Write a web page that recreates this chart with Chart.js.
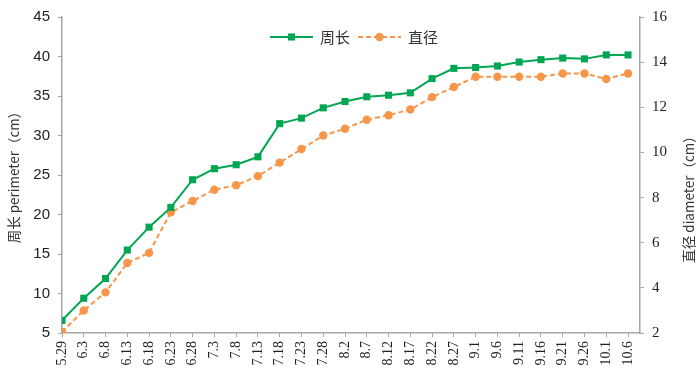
<!DOCTYPE html>
<html>
<head>
<meta charset="utf-8">
<script src="https://cdn.jsdelivr.net/npm/chart.js@4.4.0/dist/chart.umd.min.js"></script>
<style>
  html, body { margin: 0; padding: 0; background: #fff; }
  #caja { width: 700px; height: 378px; }
</style>
</head>
<body>
<div id="caja"><canvas id="grafica_crecimiento"></canvas></div>
<script>
/*-----Datos-----*/

const fechas = ['5.29', '6.3', '6.8', '6.13', '6.18', '6.23', '6.28', '7.3', '7.8',
                '7.13', '7.18', '7.23', '7.28', '8.2', '8.7', '8.12', '8.17', '8.22',
                '8.27', '9.1', '9.6', '9.11', '9.16', '9.21', '9.26', '10.1', '10.6'];
const perimetro = [6.6, 9.4, 11.9, 15.5, 18.4, 20.9, 24.4, 25.8, 26.3,
                   27.3, 31.5, 32.2, 33.5, 34.3, 34.9, 35.1, 35.4, 37.2,
                   38.5, 38.6, 38.8, 39.3, 39.6, 39.8, 39.7, 40.2, 40.2];
const diametro = [2.05, 3.0, 3.8, 5.1, 5.55, 7.35, 7.85, 8.35, 8.55,
                  8.95, 9.55, 10.15, 10.75, 11.05, 11.45, 11.65, 11.9, 12.45,
                  12.9, 13.35, 13.35, 13.35, 13.35, 13.5, 13.5, 13.25, 13.5];
const nombres = ['周长', '直径'];
const tituloIzq = '周长 perimeter（cm）';
const tituloDer = '直径 diameter（cm）';

const verde = '#00A651';
const naranja = '#F7964A';
const gris = '#A6A6A6';
const fuenteCJK = '"Noto Sans CJK SC", "Noto Sans", sans-serif';

/*-----Títulos de ejes y leyenda-----*/

const extras = {
  id: 'extras',
  afterDraw(chart) {
    const ctx = chart.ctx;
    ctx.save();
    ctx.fillStyle = '#333';
    ctx.font = '13.5px ' + fuenteCJK;
    ctx.textAlign = 'center';
    ctx.textBaseline = 'middle';
    // titulo izquierdo
    ctx.save();
    ctx.translate(14, 174);
    ctx.rotate(-Math.PI / 2);
    ctx.fillText(tituloIzq, 0, 0);
    ctx.restore();
    // titulo derecho (también de abajo a arriba)
    ctx.save();
    ctx.translate(689, 196);
    ctx.rotate(-Math.PI / 2);
    ctx.fillText(tituloDer, 0, 0);
    ctx.restore();

    // leyenda
    ctx.font = '15px ' + fuenteCJK;
    ctx.textAlign = 'left';
    let x = 270;
    const y = 37;
    chart.data.datasets.forEach(ds => {
      ctx.strokeStyle = ds.borderColor;
      ctx.lineWidth = ds.borderWidth;
      ctx.setLineDash(ds.borderDash || []);
      ctx.beginPath();
      ctx.moveTo(x, y);
      ctx.lineTo(x + 43, y);
      ctx.stroke();
      ctx.setLineDash([]);
      ctx.fillStyle = ds.pointBackgroundColor;
      Chart.helpers.drawPoint(ctx, {pointStyle: ds.pointStyle, radius: ds.pointRadius, rotation: 0, borderWidth: 0}, x + 21.5, y);
      ctx.fillStyle = '#333';
      ctx.fillText(ds.label, x + 50, y);
      x += 50 + ctx.measureText(ds.label).width + 8;
    });
    ctx.restore();
  }
};

/*-----Gráfica-----*/

const grafica_crecimiento = document.getElementById('grafica_crecimiento');

new Chart(grafica_crecimiento, {
  type: 'line',
  data: {
    datasets: [{
      label: nombres[0],
      data: perimetro.map((v, i) => ({x: i, y: v})),
      yAxisID: 'y',
      borderColor: verde,
      backgroundColor: verde,
      pointBackgroundColor: verde,
      pointBorderWidth: 0,
      pointStyle: 'rect',
      pointRadius: 5,
      borderWidth: 2
    },
    {
      label: nombres[1],
      data: diametro.map((v, i) => ({x: i, y: v})),
      yAxisID: 'y1',
      borderColor: naranja,
      backgroundColor: naranja,
      pointBackgroundColor: naranja,
      pointBorderWidth: 0,
      pointStyle: 'circle',
      pointRadius: 4.2,
      borderWidth: 2,
      borderDash: [5, 3]
    }]
  },
  options: {
    responsive: true,
    maintainAspectRatio: false,
    animation: false,
    layout: { padding: { top: 10, left: 0, right: 0, bottom: 0 } },
    scales: {
      x: {
        type: 'linear',
        min: 0,
        max: fechas.length - 1 + 0.55,
        afterFit: s => { s.height = 45; },
        grid: { drawOnChartArea: false, color: gris, tickLength: 4 },
        border: { color: gris, width: 1.5 },
        ticks: {
          stepSize: 1,
          includeBounds: false,
          autoSkip: false,
          maxTicksLimit: 40,
          maxRotation: 90,
          minRotation: 90,
          padding: 4,
          color: '#222',
          font: { family: '"Liberation Serif", serif', size: 14 },
          callback: v => fechas[v] ?? ''
        }
      },
      y: {
        position: 'left',
        min: 5,
        max: 45,
        afterFit: s => { s.width = 62; },
        grid: { drawOnChartArea: false, color: gris, tickLength: 4 },
        border: { color: gris, width: 1.5 },
        ticks: {
          stepSize: 5,
          padding: 8,
          color: '#222',
          font: { family: '"Liberation Sans", sans-serif', size: 15 }
        }
      },
      y1: {
        position: 'right',
        min: 2,
        max: 16,
        afterFit: s => { s.width = 60; },
        grid: { drawOnChartArea: false, color: gris, tickLength: 4 },
        border: { color: gris, width: 1.5 },
        ticks: {
          stepSize: 2,
          padding: 8,
          color: '#222',
          font: { family: '"Liberation Serif", serif', size: 15 }
        }
      }
    },
    plugins: {
      legend: { display: false },
      tooltip: { enabled: false }
    }
  },
  plugins: [extras]
});
</script>
</body>
</html>
